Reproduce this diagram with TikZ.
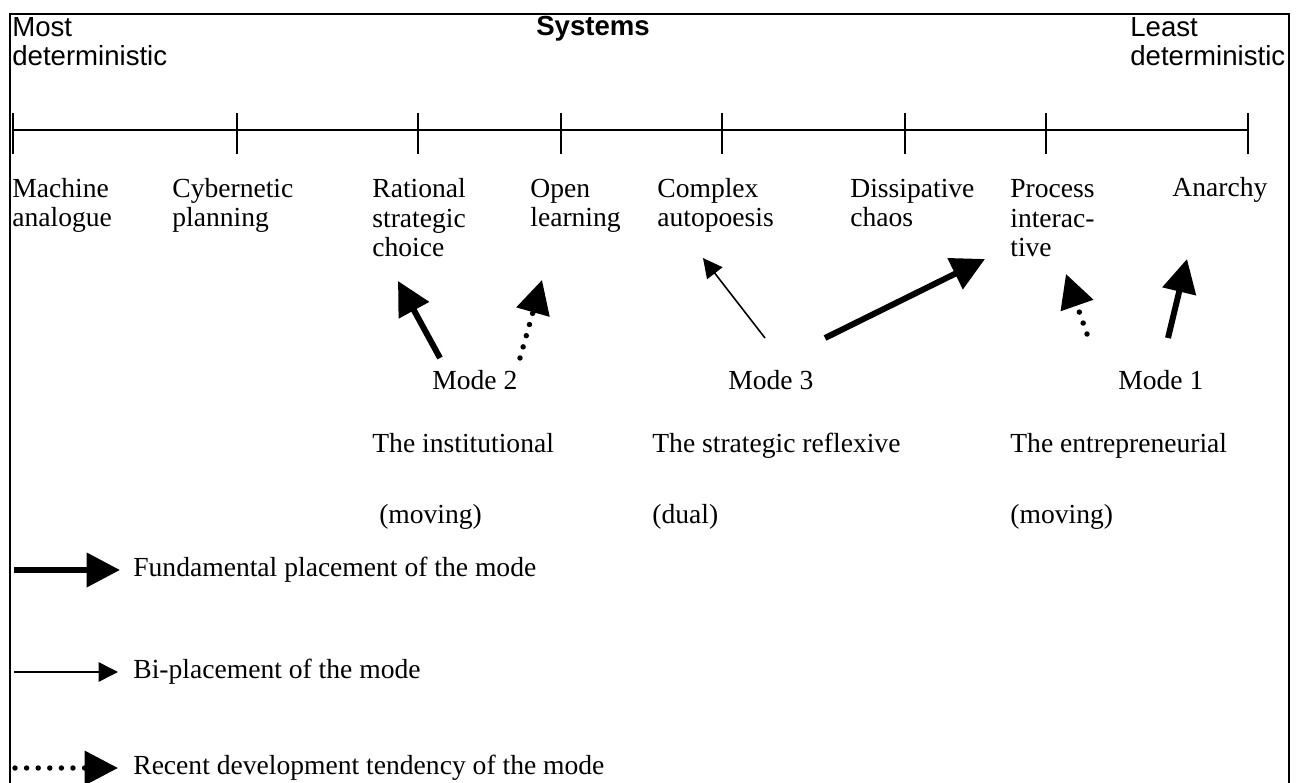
\documentclass[tikz,border=0pt]{standalone}
\usepackage{fontspec}
\setmainfont{Liberation Serif}
\setsansfont{Liberation Sans}
\usetikzlibrary{arrows.meta}

\begin{document}
\begin{tikzpicture}[x=0.02cm, y=-0.02cm,
  lbl/.style={anchor=base west, inner sep=0pt, align=left,
    font=\fontsize{15.7}{17}\selectfont},
  hdr/.style={lbl, font=\sffamily\fontsize{15.7}{17}\selectfont},
  fund/.style={line width=3.4pt, -{Triangle[length=19pt,width=19pt]}},
  biplace/.style={line width=0.9pt, -{Triangle[length=11pt,width=11pt]}},
  recent/.style={line width=3.1pt, line cap=round,
    dash pattern=on 0pt off 6.6pt, -{Triangle[length=19pt,width=19pt]}}]
  \useasboundingbox (0,0) rectangle (1298,783);
  % frame, open at the bottom
  \draw[line width=1.6pt] (10,783) -- (10,14) -- (1289,14) -- (1289,783);

  % nodes with several lines sit on the baseline of their last line
  \node[hdr] (most) at (12,66) {Most\\deterministic};
  \node[hdr, anchor=base, font=\sffamily\bfseries\fontsize{15.7}{17}\selectfont]
    (sys) at (593,36) {Systems};
  \node[hdr] (least) at (1130,66) {Least\\deterministic};

  % scale
  \draw[line width=1.1pt] (13,130) -- (1248,130);
  \foreach \x in {13,237,418,561,722,905,1046,1248}
    \draw[line width=1.1pt] (\x,113) -- (\x,154);

  \node[lbl] (mach) at (12,227)   {Machine\\analogue};
  \node[lbl] (cyb)  at (172,227)  {Cybernetic\\planning};
  \node[lbl] (rat)  at (372,257)  {Rational\\strategic\\choice};
  \node[lbl] (open) at (530,227)  {Open\\learning};
  \node[lbl] (comp) at (657,227)  {Complex\\autopoesis};
  \node[lbl] (diss) at (850,227)  {Dissipative\\chaos};
  \node[lbl] (proc) at (1010,257) {Process\\interac-\\tive};
  \node[lbl] (anar) at (1172,197) {Anarchy};

  % modes
  \node[lbl] (m2) at (432,390)  {Mode 2};
  \node[lbl] (m3) at (728,390)  {Mode 3};
  \node[lbl] (m1) at (1118,390) {Mode 1};
  \node[lbl] (m2n) at (372,453)  {The institutional};
  \node[lbl] (m3n) at (652,453)  {The strategic reflexive};
  \node[lbl] (m1n) at (1010,453) {The entrepreneurial};
  \node[lbl] (m2k) at (372,523)  {\ (moving)};
  \node[lbl] (m3k) at (652,523)  {(dual)};
  \node[lbl] (m1k) at (1010,523) {(moving)};

  % arrow ends
  \coordinate (m2a) at (440,358);  \coordinate (rat1) at (398,281);
  \coordinate (m2b) at (520,358);  \coordinate (open1) at (542,280);
  \coordinate (m3a) at (765,338);  \coordinate (comp1) at (703,258);
  \coordinate (m3b) at (825,338);  \coordinate (proc1) at (985,259);
  \coordinate (m1a) at (1087,334); \coordinate (proc2) at (1066,274);
  \coordinate (m1b) at (1168,338); \coordinate (anar1) at (1187,259);
  \draw[fund]    (m2a) -- (rat1);
  \draw[recent]  (m2b) -- (open1);
  \draw[biplace] (m3a) -- (comp1);
  \draw[fund]    (m3b) -- (proc1);
  \draw[recent]  (m1a) -- (proc2);
  \draw[fund]    (m1b) -- (anar1);

  % legend
  \coordinate (k1) at (14,570); \coordinate (k1e) at (120,570);
  \coordinate (k2) at (14,672); \coordinate (k2e) at (118,672);
  \coordinate (k3) at (15,768); \coordinate (k3e) at (118,768);
  \draw[fund]    (k1) -- (k1e);
  \draw[biplace] (k2) -- (k2e);
  \draw[recent]  (k3) -- (k3e);
  \node[lbl] (l1) at (133,576) {Fundamental placement of the mode};
  \node[lbl] (l2) at (133,678) {Bi-placement of the mode};
  \node[lbl] (l3) at (133,774) {Recent development tendency of the mode};
\end{tikzpicture}
\end{document}
